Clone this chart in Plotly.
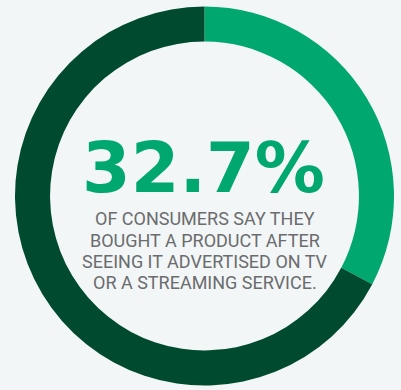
import plotly.graph_objects as go

# Survey result shown as a ring
segments = ["Bought after TV / streaming ad", "Other consumers"]
shares = [32.7, 67.3]
segment_colors = ["#00a870", "#004b30"]

headline = "32.7%"
caption_lines = [
    "OF CONSUMERS SAY THEY",
    "BOUGHT A PRODUCT AFTER",
    "SEEING IT ADVERTISED ON TV",
    "OR A STREAMING SERVICE.",
]

W, H = 401, 390
BG = "#f2f6f6"

fig = go.Figure(
    go.Pie(
        labels=segments,
        values=shares,
        hole=0.815,
        sort=False,
        direction="clockwise",
        rotation=0,
        marker=dict(colors=segment_colors, line=dict(width=0)),
        textinfo="none",
        hoverinfo="none",
        showlegend=False,
        domain=dict(x=[15 / W, 394 / W], y=[4.5 / H, 383.5 / H]),
    )
)

# Headline figure in the middle of the ring
fig.add_annotation(
    text=f"<b>{headline}</b>",
    x=204 / W, y=1 - 168 / H, xref="paper", yref="paper",
    xanchor="center", yanchor="middle", showarrow=False,
    height=64, valign="middle",
    font=dict(family="DejaVu Sans", size=70, color="#00a870"),
)

# Caption below the headline, one annotation per line
caption_y = [218, 240, 261, 282]
for line, cy in zip(caption_lines, caption_y):
    fig.add_annotation(
        text=line,
        x=205 / W, y=1 - cy / H, xref="paper", yref="paper",
        xanchor="center", yanchor="middle", showarrow=False,
        font=dict(family="Roboto", size=18, color="#6b6c6e"),
    )

fig.update_layout(
    width=W, height=H,
    margin=dict(l=0, r=0, t=0, b=0),
    paper_bgcolor=BG, plot_bgcolor=BG,
)

fig.write_html("out.html")
